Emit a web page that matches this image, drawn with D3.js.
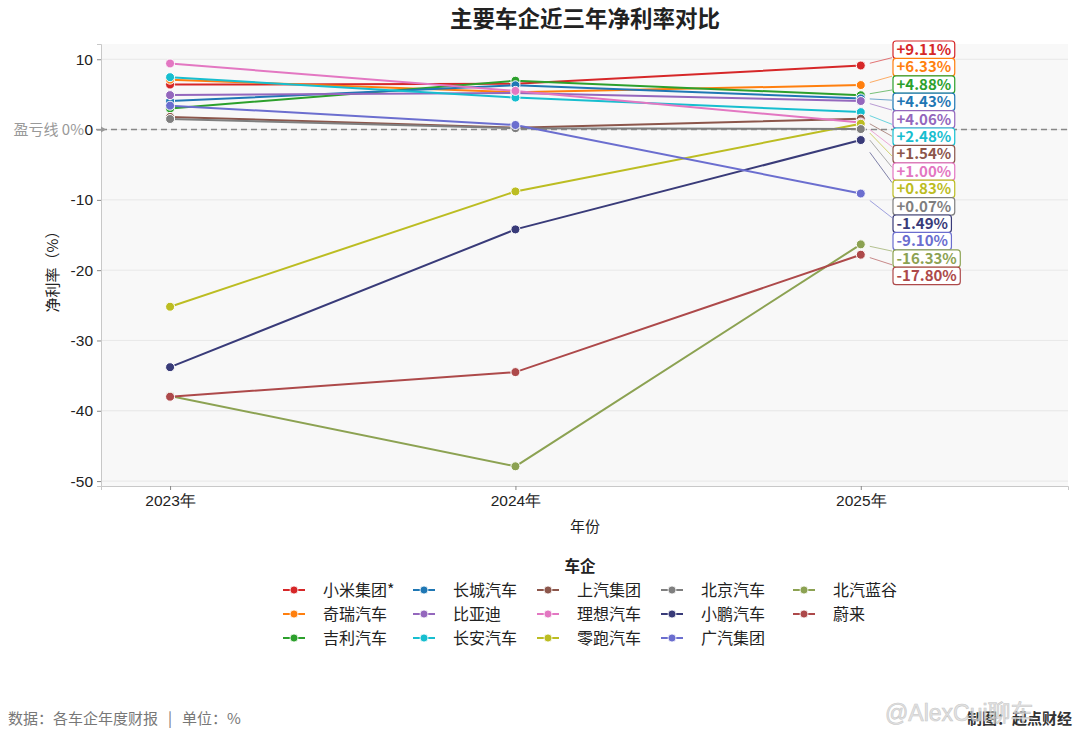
<!DOCTYPE html>
<html lang="zh">
<head>
<meta charset="utf-8">
<title>主要车企近三年净利率对比</title>
<style>
  body { margin: 0; background: #fff; }
  svg { font-family: "Noto Sans CJK SC", "Noto Sans", sans-serif; }
  .tick text { font-size: 15.5px; fill: #222; }
  .grid line { stroke: #e3e3e3; stroke-width: 0.8; }
</style>
</head>
<body>
<svg id="chart" width="1080" height="735"></svg>
<script src="https://cdnjs.cloudflare.com/ajax/libs/d3/7.8.5/d3.min.js"></script>
<script>

// data
var years = [2023, 2024, 2025];
var companies = ["小米集团*", "奇瑞汽车", "吉利汽车", "长城汽车", "比亚迪", "长安汽车", "上汽集团",
                 "理想汽车", "零跑汽车", "北京汽车", "小鹏汽车", "广汽集团", "北汽蓝谷", "蔚来"];
var margin2023 = [6.4, 7.1, 3.0, 4.05, 4.9, 7.45, 1.8, 9.4, -25.2, 1.5, -33.8, 3.4, -37.9, -38.0];
var margin2024 = [6.5, 5.3, 6.95, 6.3, 5.2, 4.55, 0.27, 5.5, -8.8, 0.2, -14.2, 0.65, -47.9, -34.5];
var margin2025 = [9.11, 6.33, 4.88, 4.43, 4.06, 2.48, 1.54, 1.00, 0.83, 0.07, -1.49, -9.10, -16.33, -17.80];
var colors = ["#d62728", "#ff7f0e", "#2ca02c", "#1f77b4", "#9467bd", "#17becf", "#8c564b",
              "#e377c2", "#bcbd22", "#7f7f7f", "#393b79", "#6b6ecf", "#8ca252", "#ad494a"];
var yTicks = [10, 0, -10, -20, -30, -40, -50];

var series = companies.map(function (c, i) {
  return { name: c, color: colors[i], values: [margin2023[i], margin2024[i], margin2025[i]] };
});

var svg = d3.select("#chart");
var pLeft = 101, pRight = 1068, pTop = 44, pBottom = 486;

var x = d3.scaleLinear().domain([2022.8, 2025.6]).range([pLeft, pRight]);
var y = d3.scaleLinear().domain([-50.7, 12.17]).range([pBottom, pTop]);

// plot background
svg.append("rect").attr("x", pLeft).attr("y", pTop)
   .attr("width", pRight - pLeft).attr("height", pBottom - pTop).attr("fill", "#f8f8f8");

// grid
svg.append("g").attr("class", "grid")
   .selectAll("line").data(yTicks).enter().append("line")
   .attr("x1", pLeft).attr("x2", pRight)
   .attr("y1", function (d) { return y(d); }).attr("y2", function (d) { return y(d); });

// zero line
svg.append("line").attr("x1", pLeft).attr("x2", pRight)
   .attr("y1", y(0)).attr("y2", y(0))
   .attr("stroke", "#888").attr("stroke-width", 1.5).attr("stroke-dasharray", "6,4");

// axes
var yAxis = svg.append("g").attr("transform", "translate(" + pLeft + ",0)")
   .call(d3.axisLeft(y).tickValues(yTicks).tickSize(4).tickPadding(4)
         .tickFormat(function (d) { return String(d); }));
var xAxis = svg.append("g").attr("transform", "translate(0," + pBottom + ")")
   .call(d3.axisBottom(x).tickValues(years).tickSize(4).tickPadding(5)
         .tickFormat(function (d) { return d + "年"; }));
[yAxis, xAxis].forEach(function (a) {
  a.select(".domain").attr("stroke", "#c8c8c8");
  a.selectAll(".tick line").attr("stroke", "#888");
  a.selectAll(".tick text").attr("font-family", null);
});

// lines
var line = d3.line()
  .x(function (d, i) { return x(years[i]); })
  .y(function (d) { return y(d); });

var g = svg.append("g");
series.forEach(function (s) {
  g.append("path").attr("d", line(s.values))
   .attr("fill", "none").attr("stroke", s.color).attr("stroke-width", 2);
  g.selectAll(null).data(s.values).enter().append("circle")
   .attr("cx", function (d, i) { return x(years[i]); })
   .attr("cy", function (d) { return y(d); })
   .attr("r", 4.5).attr("fill", s.color)
   .attr("stroke", "#fff").attr("stroke-width", 1);
});

// end labels
var boxX = 893, boxTop = 41, boxStep = 17.4, boxH = 17.5;
var sorted = series.slice().sort(function (a, b) { return b.values[2] - a.values[2]; });
var lab = svg.append("g");
sorted.forEach(function (s, i) {
  var v = s.values[2];
  var by = boxTop + i * boxStep;
  var cy = by + boxH / 2;
  var px = x(2025), py = y(v);
  var txt = (v >= 0 ? "+" : "") + v.toFixed(2) + "%";
  var t = lab.append("text").attr("x", boxX + 3.5).attr("y", cy + 5.2)
    .attr("font-size", 15).attr("font-weight", "bold").attr("fill", s.color).text(txt);
  var w = t.node().getComputedTextLength() + 7;
  var cx = boxX + w / 2;
  // connector aimed at box centre
  var x1 = px + 9, x2 = boxX - 1;
  var t1 = (x1 - px) / (cx - px), t2 = (x2 - px) / (cx - px);
  lab.insert("line", "text")
    .attr("x1", x1).attr("y1", py + (cy - py) * t1)
    .attr("x2", x2).attr("y2", py + (cy - py) * t2)
    .attr("stroke", s.color).attr("stroke-width", 0.9).attr("opacity", 0.7);
  lab.insert("rect", "text")
    .attr("x", boxX).attr("y", by).attr("width", w).attr("height", boxH)
    .attr("rx", 3).attr("fill", "#fff").attr("stroke", s.color).attr("stroke-width", 1.2);
});

// break-even annotation
svg.append("text").attr("x", 84).attr("y", y(0) + 5.5).attr("text-anchor", "end")
   .attr("font-size", 15).attr("fill", "#999").text("盈亏线 0%");
svg.append("line").attr("x1", 96).attr("x2", 104).attr("y1", y(0)).attr("y2", y(0))
   .attr("stroke", "#999").attr("stroke-width", 1.5);
svg.append("path").attr("d", "M106," + y(0) + " l-5,-3 l0,6 z").attr("fill", "#999");

// titles
svg.append("text").attr("x", 585).attr("y", 27).attr("text-anchor", "middle")
   .attr("font-size", 22.5).attr("font-weight", "bold").attr("fill", "#222").text("主要车企近三年净利率对比");
svg.append("text").attr("x", 585).attr("y", 532).attr("text-anchor", "middle")
   .attr("font-size", 15).attr("fill", "#222").text("年份");
svg.append("text").attr("transform", "translate(58," + 268 + ") rotate(-90)")
   .attr("text-anchor", "middle").attr("font-size", 15).attr("fill", "#222").text("净利率（%）");

// legend
var legCols = [283, 413, 537, 661, 793];
var legRows = [590, 614, 638];
svg.append("text").attr("x", 580).attr("y", 572).attr("text-anchor", "middle")
   .attr("font-size", 15.5).attr("font-weight", "bold").attr("fill", "#222").text("车企");
var leg = svg.append("g").selectAll("g").data(series).enter().append("g")
   .attr("transform", function (d, i) {
     return "translate(" + legCols[Math.floor(i / 3)] + "," + legRows[i % 3] + ")";
   });
leg.append("line").attr("x1", 0).attr("x2", 22).attr("stroke-width", 2)
   .attr("stroke", function (d) { return d.color; });
leg.append("circle").attr("cx", 11).attr("r", 4).attr("stroke", "#fff").attr("stroke-width", 0.8)
   .attr("fill", function (d) { return d.color; });
leg.append("text").attr("x", 40).attr("y", 6).attr("font-size", 16).attr("fill", "#222")
   .text(function (d) { return d.name; });

// footer
var foot = svg.append("text").attr("x", 8).attr("y", 724).attr("font-size", 15).attr("fill", "#777");
foot.append("tspan").text("数据：各车企年度财报");
foot.append("tspan").attr("dx", 10).text("|");
foot.append("tspan").attr("dx", 10).text("单位：%");
svg.append("text").attr("x", 1072).attr("y", 724).attr("text-anchor", "end")
   .attr("font-size", 15).attr("font-weight", "bold").attr("fill", "#333").text("制图：起点财经");
svg.append("text").attr("x", 885).attr("y", 721).attr("font-size", 23).attr("fill", "#ddd")
   .attr("stroke", "#bbb").attr("stroke-width", 0.6).attr("opacity", 0.8)
   .attr("font-family", "Liberation Sans, Noto Sans CJK SC").text("@AlexCui聊车");
</script>
</body>
</html>
